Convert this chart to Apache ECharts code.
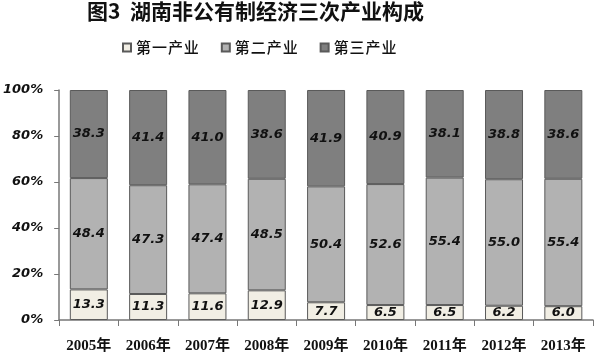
<!DOCTYPE html>
<html><head><meta charset="utf-8">
<script src="https://cdn.jsdelivr.net/npm/echarts@6/dist/echarts.min.js"></script>
<style>html,body{margin:0;padding:0;background:#fff}#c{width:598px;height:356px}</style>
</head><body><div id="c"></div>
<script>
const title = '图3  湖南非公有制经济三次产业构成';
const categories = ['2005年','2006年','2007年','2008年','2009年','2010年','2011年','2012年','2013年'];
const seriesNames = ['第一产业','第二产业','第三产业'];
const primary = [13.3, 11.3, 11.6, 12.9, 7.7, 6.5, 6.5, 6.2, 6.0];
const secondary = [48.4, 47.3, 47.4, 48.5, 50.4, 52.6, 55.4, 55.0, 55.4];
const tertiary = [38.3, 41.4, 41.0, 38.6, 41.9, 40.9, 38.1, 38.8, 38.6];
const colors = ['#f1eee4', '#b2b2b2', '#7f7f7f'];

const chart = echarts.init(document.getElementById('c'));
const lbl = {
  show: true, position: 'inside', color: '#111',
  fontFamily: 'DejaVu Sans', fontWeight: 'bold', fontStyle: 'italic', fontSize: 13,
  formatter: p => p.value.toFixed(1)
};
function mk(name, data, color) {
  return {
    name, type: 'bar', stack: 'total', data, barWidth: 38,
    itemStyle: { color, borderColor: '#5a5a5a', borderWidth: 1 },
    label: lbl
  };
}
chart.setOption({
  animation: false,
  backgroundColor: '#fff',
  title: {
    text: title, left: 82, top: -4,
    textStyle: { fontFamily: '"Noto Sans CJK SC"', fontWeight: 'bold', fontSize: 21, color: '#111' }
  },
  legend: {
    top: 35, left: 117, itemWidth: 8, itemHeight: 8, itemGap: 22,
    icon: 'rect',
    data: seriesNames,
    textStyle: { fontFamily: '"Noto Sans CJK SC"', fontSize: 15, fontWeight: 500, color: '#111' },
    formatter: n => n.split('').join('\u200A')
  },
  grid: { left: 57, right: 5, top: 90, bottom: 36, containLabel: false },
  xAxis: {
    type: 'category', data: categories,
    axisLine: { lineStyle: { color: '#777', width: 1.5 } },
    axisTick: { show: true, length: 6, lineStyle: { color: '#777' } },
    axisLabel: { interval: 0, margin: 19, color: '#111', fontFamily: '"Liberation Serif", "Noto Sans CJK SC"', fontWeight: 'bold', fontSize: 15 }
  },
  yAxis: {
    type: 'value', min: 0, max: 100, interval: 20,
    axisLine: { show: true, lineStyle: { color: '#777', width: 1.5 } },
    axisTick: { show: true, length: 5, lineStyle: { color: '#777' } },
    splitLine: { show: false },
    axisLabel: { margin: 16, color: '#111', fontFamily: 'DejaVu Sans', fontWeight: 'bold', fontStyle: 'italic', fontSize: 13, formatter: '{value}%' }
  },
  series: [
    mk(seriesNames[0], primary, colors[0]),
    mk(seriesNames[1], secondary, colors[1]),
    mk(seriesNames[2], tertiary, colors[2])
  ]
});
</script></body></html>
